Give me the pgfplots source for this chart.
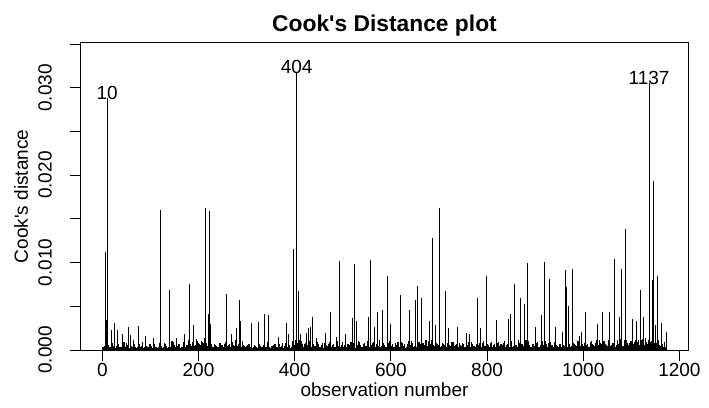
\documentclass[border=0pt]{standalone}
\usepackage{pgfplots}
\pgfplotsset{compat=1.18}
\usepackage{fontspec}
\setmainfont{Liberation Sans}
\newcommand{\lab}{\fontsize{19}{22}\selectfont}
\begin{document}
\begin{tikzpicture}[x=1pt,y=1pt]
\path[use as bounding box] (-80.7,-57) rectangle (628.3,350);
\begin{axis}[at={(0,0)}, anchor=south west, scale only axis,
  width=607.6pt, height=307.3pt,
  xmin=-45, xmax=1218.5, ymin=0, ymax=0.03516,
  tick pos=left, tick align=outside, major tick length=10.5pt,
  scaled y ticks=false, scaled x ticks=false,
  xtick={0,200,400,600,800,1000,1200},
  xticklabels={0,200,400,600,800,1000,1200},
  ytick={0,0.005,0.01,0.015,0.02,0.025,0.03,0.035},
  yticklabels={0.000,,0.010,,0.020,,0.030,},
  tick label style={font=\lab, inner sep=0pt},
  xticklabel style={anchor=base},
  yticklabel style={rotate=90, anchor=base},
  xticklabel shift=15.5pt, yticklabel shift=18.5pt,
  axis line style={line width=0.9pt, black},
  tick style={line width=0.9pt, black},
]
% dense low-level background (Cook's distance of ordinary observations)
\addplot[ycomb, black, line width=1.2pt, mark=none] table[row sep=\\] {
x y\\
1 0.0003\\5 0.0005\\9 0.0002\\13 0.0006\\17 0.0004\\21 0.0008\\25 0.0003\\29 0.0005\\33 0.0007\\37 0.0002\\41 0.0004\\45 0.0009\\49 0.0003\\53 0.0006\\57 0.0002\\61 0.0005\\65 0.0011\\69 0.0004\\73 0.0003\\77 0.0007\\81 0.0005\\85 0.0002\\89 0.0006\\93 0.0004\\97 0.0003\\
101 0.0005\\105 0.0002\\109 0.0007\\113 0.0004\\117 0.0003\\121 0.0006\\125 0.0002\\129 0.0008\\133 0.0005\\137 0.0003\\141 0.0004\\145 0.0010\\149 0.0006\\153 0.0002\\157 0.0005\\161 0.0007\\165 0.0003\\169 0.0009\\173 0.0004\\177 0.0006\\181 0.0012\\185 0.0005\\189 0.0008\\193 0.0006\\197 0.0010\\
201 0.0007\\205 0.0005\\209 0.0009\\213 0.0014\\217 0.0008\\221 0.0006\\225 0.0011\\229 0.0004\\233 0.0007\\237 0.0005\\241 0.0003\\245 0.0008\\249 0.0006\\253 0.0004\\257 0.0009\\261 0.0005\\265 0.0007\\269 0.0003\\273 0.0006\\277 0.0012\\281 0.0005\\285 0.0008\\289 0.0004\\293 0.0006\\297 0.0003\\
301 0.0005\\305 0.0007\\309 0.0004\\313 0.0002\\317 0.0006\\321 0.0003\\325 0.0008\\329 0.0005\\333 0.0004\\337 0.0007\\341 0.0003\\345 0.0009\\349 0.0002\\353 0.0005\\357 0.0006\\361 0.0004\\365 0.0003\\369 0.0007\\373 0.0005\\377 0.0002\\381 0.0008\\385 0.0004\\389 0.0006\\393 0.0003\\397 0.0009\\
401 0.0012\\405 0.0008\\409 0.0006\\413 0.0010\\417 0.0005\\421 0.0007\\425 0.0009\\429 0.0004\\433 0.0006\\437 0.0011\\441 0.0005\\445 0.0003\\449 0.0007\\453 0.0004\\457 0.0008\\461 0.0002\\465 0.0006\\469 0.0005\\473 0.0009\\477 0.0003\\481 0.0007\\485 0.0004\\489 0.0010\\493 0.0005\\497 0.0006\\
501 0.0004\\505 0.0008\\509 0.0003\\513 0.0006\\517 0.0009\\521 0.0005\\525 0.0007\\529 0.0002\\533 0.0010\\537 0.0006\\541 0.0004\\545 0.0008\\549 0.0005\\553 0.0012\\557 0.0003\\561 0.0007\\565 0.0009\\569 0.0004\\573 0.0006\\577 0.0011\\581 0.0005\\585 0.0008\\589 0.0003\\593 0.0007\\597 0.0010\\
601 0.0005\\605 0.0004\\609 0.0008\\613 0.0006\\617 0.0003\\621 0.0009\\625 0.0005\\629 0.0007\\633 0.0004\\637 0.0010\\641 0.0006\\645 0.0008\\649 0.0005\\653 0.0003\\657 0.0009\\661 0.0007\\665 0.0004\\669 0.0006\\673 0.0011\\677 0.0005\\681 0.0008\\685 0.0012\\689 0.0006\\693 0.0009\\697 0.0007\\
701 0.0010\\705 0.0005\\709 0.0007\\713 0.0004\\717 0.0008\\721 0.0006\\725 0.0003\\729 0.0009\\733 0.0005\\737 0.0007\\741 0.0004\\745 0.0006\\749 0.0008\\753 0.0003\\757 0.0005\\761 0.0009\\765 0.0004\\769 0.0007\\773 0.0005\\777 0.0003\\781 0.0006\\785 0.0008\\789 0.0004\\793 0.0010\\797 0.0005\\
801 0.0007\\805 0.0004\\809 0.0009\\813 0.0006\\817 0.0003\\821 0.0008\\825 0.0005\\829 0.0007\\833 0.0004\\837 0.0010\\841 0.0006\\845 0.0005\\849 0.0008\\853 0.0003\\857 0.0009\\861 0.0006\\865 0.0011\\869 0.0004\\873 0.0007\\877 0.0005\\881 0.0012\\885 0.0008\\889 0.0006\\893 0.0004\\897 0.0007\\
901 0.0005\\905 0.0009\\909 0.0003\\913 0.0007\\917 0.0006\\921 0.0010\\925 0.0004\\929 0.0008\\933 0.0005\\937 0.0003\\941 0.0009\\945 0.0006\\949 0.0004\\953 0.0007\\957 0.0011\\961 0.0005\\965 0.0008\\969 0.0006\\973 0.0004\\977 0.0009\\981 0.0007\\985 0.0005\\989 0.0010\\993 0.0006\\997 0.0008\\
1001 0.0005\\1005 0.0009\\1009 0.0007\\1013 0.0004\\1017 0.0010\\1021 0.0006\\1025 0.0008\\1029 0.0005\\1033 0.0011\\1037 0.0007\\1041 0.0004\\1045 0.0009\\1049 0.0006\\1053 0.0012\\1057 0.0005\\1061 0.0008\\1065 0.0010\\1069 0.0006\\1073 0.0007\\1077 0.0013\\1081 0.0005\\1085 0.0009\\1089 0.0011\\1093 0.0006\\1097 0.0008\\
1101 0.0010\\1105 0.0007\\1109 0.0012\\1113 0.0009\\1117 0.0006\\1121 0.0011\\1125 0.0008\\1129 0.0014\\1133 0.0007\\1137 0.0010\\1141 0.0009\\1145 0.0012\\1149 0.0006\\1153 0.0008\\1157 0.0011\\1161 0.0005\\1165 0.0007\\1169 0.0009\\
};
\addplot[ycomb, black, line width=1.2pt, mark=none] table[row sep=\\] {
x y\\
3 0.0004\\7 0.0002\\11 0.0006\\15 0.0003\\19 0.0009\\23 0.0005\\27 0.0002\\31 0.0007\\35 0.0004\\39 0.0003\\43 0.0006\\47 0.0002\\51 0.0008\\55 0.0004\\59 0.0005\\63 0.0003\\67 0.0007\\71 0.0002\\75 0.0006\\79 0.0004\\83 0.0009\\87 0.0003\\91 0.0005\\95 0.0002\\99 0.0007\\
103 0.0003\\107 0.0006\\111 0.0004\\115 0.0002\\119 0.0008\\123 0.0005\\127 0.0003\\131 0.0007\\135 0.0002\\139 0.0006\\143 0.0004\\147 0.0009\\151 0.0003\\155 0.0005\\159 0.0007\\163 0.0002\\167 0.0004\\171 0.0008\\175 0.0006\\179 0.0011\\183 0.0007\\187 0.0009\\191 0.0005\\195 0.0013\\199 0.0008\\
203 0.0006\\207 0.0010\\211 0.0008\\215 0.0012\\219 0.0005\\223 0.0009\\227 0.0007\\231 0.0004\\235 0.0006\\239 0.0003\\243 0.0008\\247 0.0005\\251 0.0002\\255 0.0007\\259 0.0004\\263 0.0006\\267 0.0003\\271 0.0009\\275 0.0005\\279 0.0004\\283 0.0007\\287 0.0003\\291 0.0010\\295 0.0005\\299 0.0004\\
303 0.0006\\307 0.0003\\311 0.0008\\315 0.0004\\319 0.0005\\323 0.0002\\327 0.0007\\331 0.0003\\335 0.0006\\339 0.0004\\343 0.0009\\347 0.0003\\351 0.0005\\355 0.0002\\359 0.0007\\363 0.0004\\367 0.0006\\371 0.0003\\375 0.0008\\379 0.0005\\383 0.0004\\387 0.0007\\391 0.0002\\395 0.0010\\399 0.0006\\
403 0.0009\\407 0.0005\\411 0.0011\\415 0.0007\\419 0.0004\\423 0.0008\\427 0.0006\\431 0.0010\\435 0.0003\\439 0.0007\\443 0.0005\\447 0.0009\\451 0.0004\\455 0.0006\\459 0.0002\\463 0.0008\\467 0.0005\\471 0.0007\\475 0.0003\\479 0.0006\\483 0.0004\\487 0.0008\\491 0.0005\\495 0.0003\\499 0.0009\\
503 0.0006\\507 0.0003\\511 0.0007\\515 0.0005\\519 0.0004\\523 0.0008\\527 0.0002\\531 0.0006\\535 0.0009\\539 0.0004\\543 0.0007\\547 0.0005\\551 0.0010\\555 0.0003\\559 0.0006\\563 0.0008\\567 0.0004\\571 0.0007\\575 0.0005\\579 0.0003\\583 0.0009\\587 0.0006\\591 0.0004\\595 0.0008\\599 0.0005\\
603 0.0007\\607 0.0003\\611 0.0006\\615 0.0009\\619 0.0004\\623 0.0008\\627 0.0005\\631 0.0002\\635 0.0007\\639 0.0006\\643 0.0010\\647 0.0004\\651 0.0007\\655 0.0003\\659 0.0009\\663 0.0005\\667 0.0008\\671 0.0006\\675 0.0004\\679 0.0010\\683 0.0007\\687 0.0009\\691 0.0005\\695 0.0008\\699 0.0006\\
703 0.0004\\707 0.0008\\711 0.0006\\715 0.0003\\719 0.0007\\723 0.0005\\727 0.0009\\731 0.0004\\735 0.0006\\739 0.0002\\743 0.0008\\747 0.0005\\751 0.0007\\755 0.0003\\759 0.0006\\763 0.0004\\767 0.0009\\771 0.0005\\775 0.0003\\779 0.0007\\783 0.0004\\787 0.0006\\791 0.0008\\795 0.0005\\799 0.0003\\
803 0.0006\\807 0.0008\\811 0.0004\\815 0.0007\\819 0.0005\\823 0.0009\\827 0.0003\\831 0.0006\\835 0.0008\\839 0.0004\\843 0.0007\\847 0.0003\\851 0.0010\\855 0.0005\\859 0.0006\\863 0.0004\\867 0.0008\\871 0.0007\\875 0.0005\\879 0.0009\\883 0.0006\\887 0.0010\\891 0.0004\\895 0.0007\\899 0.0005\\
903 0.0008\\907 0.0004\\911 0.0006\\915 0.0010\\919 0.0005\\923 0.0007\\927 0.0003\\931 0.0009\\935 0.0006\\939 0.0004\\943 0.0008\\947 0.0005\\951 0.0007\\955 0.0003\\959 0.0006\\963 0.0009\\967 0.0004\\971 0.0007\\975 0.0005\\979 0.0008\\983 0.0006\\987 0.0004\\991 0.0009\\995 0.0005\\999 0.0007\\
1003 0.0008\\1007 0.0006\\1011 0.0004\\1015 0.0009\\1019 0.0007\\1023 0.0005\\1027 0.0011\\1031 0.0006\\1035 0.0008\\1039 0.0004\\1043 0.0010\\1047 0.0007\\1051 0.0005\\1055 0.0009\\1059 0.0006\\1063 0.0008\\1067 0.0004\\1071 0.0011\\1075 0.0007\\1079 0.0009\\1083 0.0005\\1087 0.0012\\1091 0.0008\\1095 0.0006\\1099 0.0010\\
1103 0.0007\\1107 0.0009\\1111 0.0005\\1115 0.0011\\1119 0.0008\\1123 0.0013\\1127 0.0006\\1131 0.0009\\1135 0.0011\\1139 0.0007\\1143 0.0010\\1147 0.0008\\1151 0.0005\\1155 0.0009\\1159 0.0006\\1163 0.0008\\1167 0.0004\\1171 0.0003\\
};
% individual spikes
\addplot[ycomb, black, line width=0.8pt, mark=none] table[row sep=\\] {
x y\\
6 0.0112\\8 0.0034\\10 0.0288\\18 0.0023\\26 0.0031\\31 0.0023\\42 0.0018\\55 0.0026\\58 0.0017\\74 0.0027\\89 0.0016\\107 0.0014\\
121 0.0160\\139 0.0069\\155 0.0014\\171 0.0018\\180 0.0056\\181 0.0076\\190 0.0029\\215 0.0163\\220 0.0041\\222 0.0159\\225 0.0030\\
257 0.0064\\268 0.0018\\278 0.0025\\286 0.0057\\287 0.0033\\311 0.0031\\325 0.0032\\338 0.0041\\346 0.0040\\367 0.0015\\382 0.0031\\387 0.0018\\
398 0.0115\\404 0.0318\\408 0.0068\\412 0.0018\\424 0.0019\\428 0.0025\\432 0.0026\\437 0.0038\\446 0.0014\\463 0.0019\\475 0.0043\\487 0.0015\\
492 0.0102\\505 0.0018\\519 0.0037\\525 0.0098\\529 0.0033\\554 0.0038\\557 0.0103\\566 0.0026\\573 0.0044\\583 0.0046\\593 0.0085\\600 0.0030\\
620 0.0063\\638 0.0046\\652 0.0057\\655 0.0073\\663 0.0060\\681 0.0033\\686 0.0128\\692 0.0029\\700 0.0163\\713 0.0067\\720 0.0025\\738 0.0026\\
758 0.0020\\763 0.0018\\780 0.0059\\787 0.0025\\799 0.0085\\820 0.0034\\845 0.0036\\849 0.0041\\857 0.0076\\870 0.0059\\877 0.0053\\884 0.0100\\
900 0.0026\\914 0.0040\\920 0.0101\\929 0.0081\\943 0.0026\\956 0.0021\\963 0.0092\\966 0.0072\\969 0.0050\\977 0.0093\\991 0.0016\\997 0.0021\\
1005 0.0043\\1030 0.0030\\1040 0.0043\\1055 0.0043\\1065 0.0104\\1075 0.0038\\1080 0.0093\\1087 0.0064\\1088 0.0138\\1103 0.0036\\1110 0.0033\\
1118 0.0069\\1125 0.0038\\1137 0.0306\\1144 0.0080\\1146 0.0193\\1150 0.0029\\1155 0.0085\\1163 0.0031\\1172 0.0021\\
};
\node[anchor=base, inner sep=0pt, font=\lab, yshift=-1.6pt] at (axis cs:10,0.0288) {10};
\node[anchor=base, inner sep=0pt, font=\lab, yshift=-1.6pt] at (axis cs:404,0.0318) {404};
\node[anchor=base, inner sep=0pt, font=\lab, yshift=-1.6pt] at (axis cs:1137,0.0306) {1137};
\end{axis}
\node[anchor=base, inner sep=0pt, font=\bfseries\fontsize{22.8}{26}\selectfont] at (303.8,318.3) {Cook\textquotesingle s Distance plot};
\node[anchor=base, inner sep=0pt, font=\lab] at (303.8,-46.7) {observation number};
\node[anchor=base, inner sep=0pt, rotate=90, font=\lab] at (-52.7,153.65) {Cook\textquotesingle s distance};
\end{tikzpicture}
\end{document}
